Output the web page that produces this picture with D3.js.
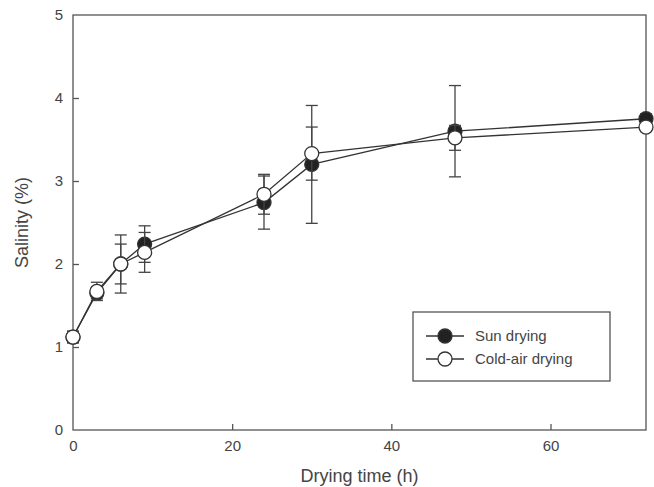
<!DOCTYPE html>
<html>
<head>
<meta charset="utf-8">
<script src="https://cdn.jsdelivr.net/npm/d3@7"></script>
<style>
  body { margin: 0; background: #fff; }
  text { font-family: "Liberation Sans", Arial, sans-serif; fill: #444; }
</style>
</head>
<body>
<div id="chart"></div>
<script>
const hours = [0, 3, 6, 9, 24, 30, 48, 72];
const sunMean = [1.12, 1.65, 2.0, 2.24, 2.74, 3.2, 3.6, 3.75];
const sunErr = [0.07, 0.07, 0.24, 0.22, 0.32, 0.71, 0.55, 0.06];
const coldMean = [1.12, 1.67, 2.0, 2.14, 2.84, 3.33, 3.52, 3.65];
const coldErr = [0.07, 0.11, 0.35, 0.24, 0.24, 0.32, 0.15, 0.05];
const xTicks = [0, 20, 40, 60];
const yTicks = [0, 1, 2, 3, 4, 5];

const width = 654, height = 487;
const margin = {left: 73, right: 8, top: 15, bottom: 57};

const svg = d3.select("#chart").append("svg")
  .attr("width", width)
  .attr("height", height);

const x = d3.scaleLinear().domain([0, 72]).range([margin.left, width - margin.right]);
const y = d3.scaleLinear().domain([0, 5]).range([height - margin.bottom, margin.top]);

const axisColor = "#555";

// frame
svg.append("rect")
  .attr("x", x(0)).attr("y", y(5))
  .attr("width", x(72) - x(0)).attr("height", y(0) - y(5))
  .attr("fill", "none").attr("stroke", axisColor).attr("stroke-width", 1.3);

// inward ticks
const xAxis = svg.append("g")
  .attr("transform", `translate(0,${y(0)})`)
  .call(d3.axisBottom(x).tickValues(xTicks).tickFormat(d3.format("d")).tickSize(-6).tickPadding(10));
const yAxis = svg.append("g")
  .attr("transform", `translate(${x(0)},0)`)
  .call(d3.axisLeft(y).tickValues(yTicks).tickFormat(d3.format("d")).tickSize(-6).tickPadding(10));

[xAxis, yAxis].forEach(a => {
  a.select(".domain").remove();
  a.selectAll(".tick line").attr("stroke", axisColor).attr("stroke-width", 1.3);
  a.selectAll(".tick text").attr("font-size", 15).style("fill", "#444");
});
xAxis.selectAll(".tick").filter(d => d === 0).select("line").remove();
yAxis.selectAll(".tick").filter(d => d === 0 || d === 5).select("line").remove();

// axis titles
svg.append("text")
  .attr("x", (x(0) + x(72)) / 2)
  .attr("y", 482)
  .attr("text-anchor", "middle")
  .attr("font-size", 18)
  .text("Drying time (h)");

svg.append("text")
  .attr("transform", `translate(28,${(y(0) + y(5)) / 2}) rotate(-90)`)
  .attr("text-anchor", "middle")
  .attr("font-size", 18)
  .text("Salinity (%)");

const series = [
  {name: "Sun drying", mean: sunMean, err: sunErr, fill: "#222"},
  {name: "Cold-air drying", mean: coldMean, err: coldErr, fill: "#fff"}
];

const line = d3.line().x(d => x(d.t)).y(d => y(d.v));
const capW = 6;

series.forEach(s => {
  const pts = hours.map((t, i) => ({t: t, v: s.mean[i], e: s.err[i]}));
  const g = svg.append("g");

  const eb = g.selectAll("g.err").data(pts).enter().append("g")
    .attr("stroke", "#444").attr("stroke-width", 1.3);
  eb.append("line")
    .attr("x1", d => x(d.t)).attr("x2", d => x(d.t))
    .attr("y1", d => y(d.v + d.e)).attr("y2", d => y(d.v - d.e));
  eb.append("line")
    .attr("x1", d => x(d.t) - capW).attr("x2", d => x(d.t) + capW)
    .attr("y1", d => y(d.v + d.e)).attr("y2", d => y(d.v + d.e));
  eb.append("line")
    .attr("x1", d => x(d.t) - capW).attr("x2", d => x(d.t) + capW)
    .attr("y1", d => y(d.v - d.e)).attr("y2", d => y(d.v - d.e));

  s.pts = pts;
  s.g = g;
});

series.forEach(s => {
  s.g.append("path")
    .datum(s.pts)
    .attr("fill", "none")
    .attr("stroke", "#333")
    .attr("stroke-width", 1.3)
    .attr("d", line);
});

series.forEach(s => {
  s.g.selectAll("circle").data(s.pts).enter().append("circle")
    .attr("cx", d => x(d.t)).attr("cy", d => y(d.v))
    .attr("r", 7)
    .attr("fill", s.fill)
    .attr("stroke", "#333")
    .attr("stroke-width", 1.3);
});

// legend
const leg = svg.append("g").attr("transform", "translate(413,312)");
leg.append("rect")
  .attr("width", 197).attr("height", 69)
  .attr("fill", "#fff").attr("stroke", axisColor).attr("stroke-width", 1.3);

series.forEach((s, i) => {
  const ly = 24 + i * 23;
  leg.append("line")
    .attr("x1", 13).attr("x2", 51).attr("y1", ly).attr("y2", ly)
    .attr("stroke", "#333").attr("stroke-width", 1.3);
  leg.append("circle")
    .attr("cx", 32).attr("cy", ly).attr("r", 7)
    .attr("fill", s.fill).attr("stroke", "#333").attr("stroke-width", 1.3);
  leg.append("text")
    .attr("x", 62).attr("y", ly + 5)
    .attr("font-size", 15)
    .text(s.name);
});
</script>
</body>
</html>
